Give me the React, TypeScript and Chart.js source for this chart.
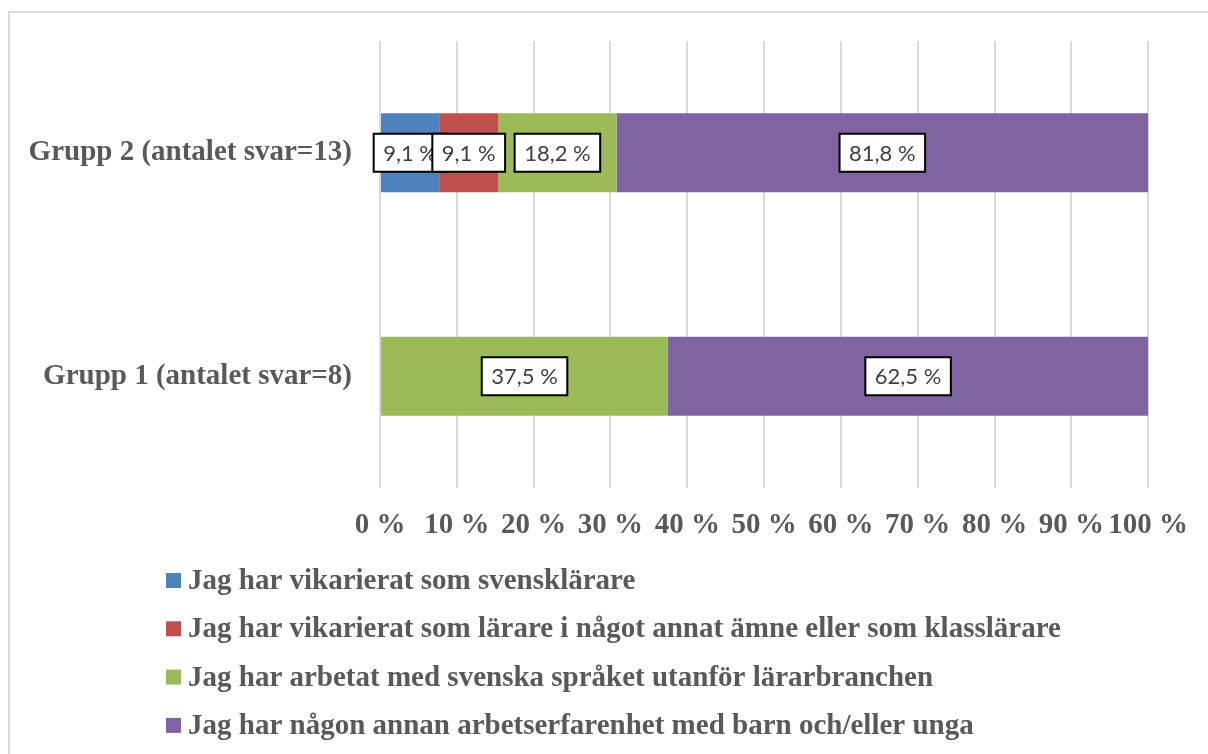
import React, { useEffect, useRef } from "react";
import { Chart, registerables } from "chart.js";

Chart.register(...registerables);

const categories = ["Grupp 2 (antalet svar=13)", "Grupp 1 (antalet svar=8)"];
const seriesNames = [
  "Jag har vikarierat som svensklärare",
  "Jag har vikarierat som lärare i något annat ämne eller som klasslärare",
  "Jag har arbetat med svenska språket utanför lärarbranchen",
  "Jag har någon annan arbetserfarenhet med barn och/eller unga",
];
const svensklarare = [9.1, 0];
const annatAmne = [9.1, 0];
const svenskaSprak = [18.2, 37.5];
const barnUnga = [81.8, 62.5];
const seriesColors = ["#4F81BD", "#C0504D", "#9BBB59", "#8064A2"];
const xTicks = [0, 10, 20, 30, 40, 50, 60, 70, 80, 90, 100];

const SERIF = "'Liberation Serif', 'Times New Roman', serif";
const GREY = "#595959";

export default function App() {
  const ref = useRef<HTMLCanvasElement>(null);

  useEffect(() => {
    const series = [svensklarare, annatAmne, svenskaSprak, barnUnga];
    const totals = categories.map((_, i) => series.reduce((s, arr) => s + arr[i], 0));
    const datasets = series.map((arr, k) => ({
      label: seriesNames[k],
      data: arr.map((v, i) => (v / totals[i]) * 100),
      rawValues: arr,
      backgroundColor: seriesColors[k],
      borderWidth: 0,
      categoryPercentage: 1,
      barPercentage: 0.353,
    }));

    const framePlugin = {
      id: "frame",
      beforeDraw(chart: any) {
        const c = chart.ctx;
        c.save();
        c.fillStyle = "#ffffff";
        c.fillRect(0, 0, chart.width, chart.height);
        c.strokeStyle = "#d9d9d9";
        c.lineWidth = 2;
        c.beginPath();
        c.moveTo(1, chart.height + 5);
        c.lineTo(1, 1);
        c.lineTo(chart.width + 5, 1);
        c.stroke();
        c.restore();
      },
    };

    const labelPlugin = {
      id: "boxLabels",
      afterDatasetsDraw(chart: any) {
        const c = chart.ctx;
        c.save();
        c.font = "22px Lato, 'Liberation Sans', sans-serif";
        c.textAlign = "center";
        c.textBaseline = "middle";
        chart.data.datasets.forEach((ds: any, di: number) => {
          const meta = chart.getDatasetMeta(di);
          meta.data.forEach((el: any, i: number) => {
            const raw = ds.rawValues[i];
            if (!raw) return;
            const p = el.getProps(["x", "y", "base"], true);
            const cx = (p.x + p.base) / 2;
            const txt = raw.toFixed(1).replace(".", ",") + " %";
            const tw = c.measureText(txt).width;
            const w = tw + 19;
            const h = 38;
            c.fillStyle = "#ffffff";
            c.fillRect(cx - w / 2, p.y - h / 2, w, h);
            c.strokeStyle = "#000000";
            c.lineWidth = 2;
            c.strokeRect(cx - w / 2, p.y - h / 2, w, h);
            c.fillStyle = "#404040";
            c.fillText(txt, cx, p.y + 1);
          });
        });
        c.restore();
      },
    };

    const legendPlugin = {
      id: "customLegend",
      afterDraw(chart: any) {
        const c = chart.ctx;
        c.save();
        c.font = `bold 29px ${SERIF}`;
        c.textAlign = "left";
        c.textBaseline = "middle";
        chart.data.datasets.forEach((ds: any, i: number) => {
          const yc = 569.5 + i * 48.3;
          c.fillStyle = ds.backgroundColor;
          c.fillRect(158, yc - 7.5, 15, 15);
          c.fillStyle = GREY;
          c.fillText(ds.label, 180, yc + 1);
        });
        c.restore();
      },
    };

    const chart = new Chart(ref.current!, {
      type: "bar",
      data: { labels: categories, datasets: datasets as any },
      options: {
        indexAxis: "y",
        responsive: false,
        animation: false,
        layout: { padding: { top: 30, right: 59, left: 0, bottom: 206 } },
        plugins: {
          legend: { display: false },
          tooltip: { enabled: false },
        },
        scales: {
          x: {
            stacked: true,
            min: 0,
            max: 100,
            afterBuildTicks(scale: any) {
              scale.ticks = xTicks.map((v) => ({ value: v }));
            },
            afterFit(scale: any) {
              scale.height = 60;
            },
            ticks: {
              autoSkip: false,
              maxRotation: 0,
              minRotation: 0,
              padding: 20,
              color: GREY,
              font: { family: SERIF, size: 29, weight: "bold" },
              callback: (v: any) => `${v} %`,
            },
            grid: { color: "#d9d9d9", lineWidth: 2, drawTicks: false },
            border: { display: false },
          },
          y: {
            stacked: true,
            afterFit(scale: any) {
              scale.width = 372;
              scale.paddingTop = 0;
              scale.paddingBottom = 0;
            },
            ticks: {
              padding: 28,
              color: GREY,
              font: { family: SERIF, size: 29, weight: "bold" },
            },
            grid: { display: false, drawTicks: false },
            border: { display: false },
          },
        },
      },
      plugins: [framePlugin, labelPlugin, legendPlugin],
    } as any);
    return () => chart.destroy();
  }, []);

  return (
    <div style={{ position: "fixed", left: 8, top: 11, width: 1200, height: 743 }}>
      <canvas ref={ref} width={1200} height={743} style={{ display: "block" }} />
    </div>
  );
}
